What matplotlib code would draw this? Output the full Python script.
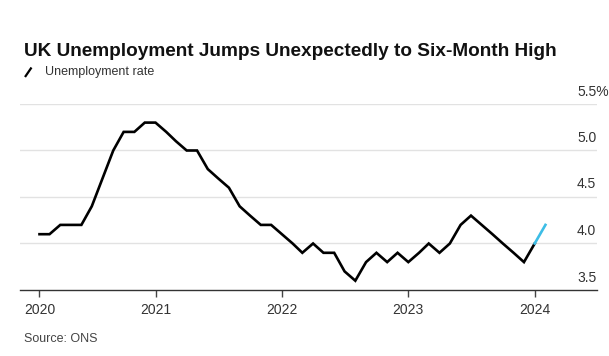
import numpy as np
import pandas as pd
import matplotlib
matplotlib.use("Agg")
import matplotlib.pyplot as plt
from matplotlib.lines import Line2D

plt.rcParams["font.family"] = ["Liberation Sans", "DejaVu Sans"]

# monthly unemployment rate (%), Feb 2020 .. Feb 2024 (last point is the new reading)
start_month = "2020-02-01"
rate = [4.1, 4.1, 4.2, 4.2, 4.2, 4.4, 4.7, 5.0, 5.2, 5.2, 5.3,
        5.3, 5.2, 5.1, 5.0, 5.0, 4.8, 4.7, 4.6, 4.4, 4.3, 4.2, 4.2,
        4.1, 4.0, 3.9, 4.0, 3.9, 3.9, 3.7, 3.6, 3.8, 3.9, 3.8, 3.9,
        3.8, 3.9, 4.0, 3.9, 4.0, 4.2, 4.3, 4.2, 4.1, 4.0, 3.9, 3.8,
        4.0, 4.2]

year_ticks = ["2020-02-01", "2021-01-01", "2022-01-01", "2023-01-01", "2024-01-01"]
year_labels = ["2020", "2021", "2022", "2023", "2024"]
y_levels = [4.0, 4.5, 5.0, 5.5]
y_labels = ["4.0", "4.5", "5.0", "5.5%"]
bottom_level = 3.5

dates = pd.date_range(start_month, periods=len(rate), freq="MS")

W, H = 609, 356
fig = plt.figure(figsize=(W / 100, H / 100), dpi=100)
ax = fig.add_axes([20 / W, 1 - 290 / H, (597 - 20) / W, (290 - 104) / H])

# black history, blue for the latest move
ax.plot(dates[:-1], rate[:-1], color="black", lw=1.9, solid_joinstyle="miter", zorder=3)
ax.plot(dates[-2:], rate[-2:], color="#3dbde6", lw=1.9, zorder=3)

ax.set_ylim(bottom_level, max(y_levels))
ax.set_yticks(y_levels)
ax.yaxis.grid(True, color="#e2e2e2", lw=1.0)
ax.set_axisbelow(True)
ax.tick_params(axis="y", length=0, labelleft=False)

ref = pd.Timestamp("2021-01-01")
px_per_day = 0.3463
ax.set_xlim(ref - pd.Timedelta(days=(155.5 - 20) / px_per_day),
            ref + pd.Timedelta(days=(597 - 155.5) / px_per_day))
ax.set_xticks(pd.to_datetime(year_ticks))
ax.set_xticklabels(year_labels)
ax.tick_params(axis="x", length=5, width=1, color="#444444",
               labelsize=10, labelcolor="#333333", pad=4)

for s in ["top", "right", "left"]:
    ax.spines[s].set_visible(False)
ax.spines["bottom"].set_color("#333333")
ax.spines["bottom"].set_linewidth(1.0)

# y labels sit above their gridline on the right
for lev, lab in zip(y_levels + [bottom_level], y_labels + ["3.5"]):
    ax.annotate(lab, xy=(1, lev), xycoords=("axes fraction", "data"),
                xytext=(-14.4, 9), textcoords="offset points",
                ha="left", va="center", fontsize=10, color="#333333",
                annotation_clip=False)

fig.text(24 / W, 1 - 56.5 / H, "UK Unemployment Jumps Unexpectedly to Six-Month High",
         fontsize=13.7, fontweight="bold", color="#111111", va="baseline")
fig.add_artist(Line2D([25 / W, 31.5 / W], [1 - 77 / H, 1 - 67.5 / H],
                      color="black", lw=1.6, solid_capstyle="butt"))
fig.text(45 / W, 1 - 75.5 / H, "Unemployment rate", fontsize=9,
         color="#333333", va="baseline")
fig.text(24 / W, 1 - 342 / H, "Source: ONS", fontsize=9,
         color="#444444", va="baseline")

fig.savefig("out.png", dpi=100, facecolor="white")
